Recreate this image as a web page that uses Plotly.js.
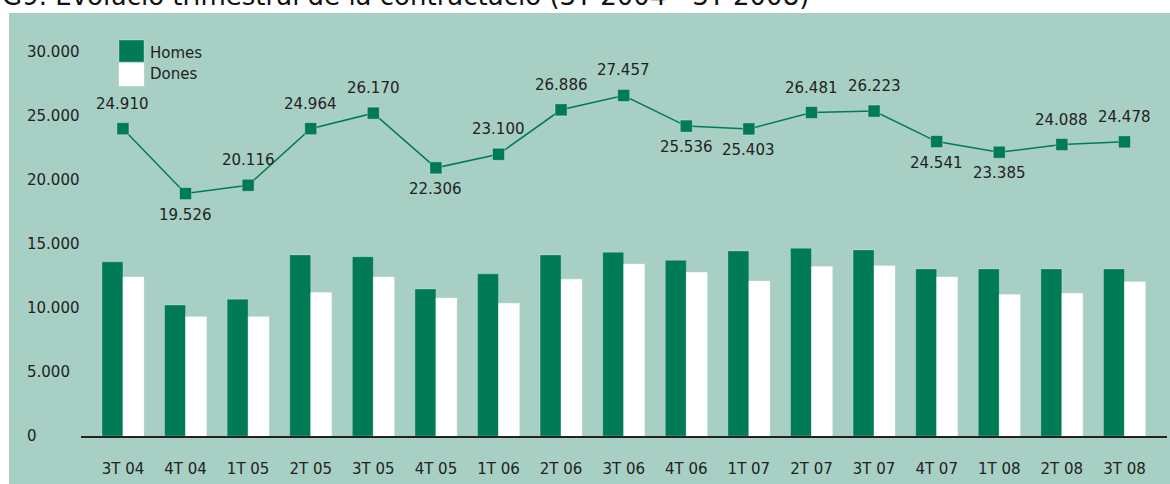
<!DOCTYPE html>
<html>
<head>
<meta charset="utf-8">
<script src="https://cdn.plot.ly/plotly-3.0.1.min.js"></script>
<style>
  body { margin: 0; background: #fff; }
  #graph { width: 1170px; height: 484px; }
</style>
</head>
<body>
<div id="graph"></div>
<script>
// quarters on the x axis
var quarters = ["3T 04", "4T 04", "1T 05", "2T 05", "3T 05", "4T 05", "1T 06", "2T 06", "3T 06",
                "4T 06", "1T 07", "2T 07", "3T 07", "4T 07", "1T 08", "2T 08", "3T 08"];

// bars
var homes = [13600, 10230, 10680, 14140, 14000, 11480, 12660, 14140, 14350,
             13720, 14450, 14660, 14530, 13050, 13050, 13050, 13050];
var dones = [12420, 9320, 9320, 11200, 12420, 10780, 10360, 12240, 13440,
             12790, 12110, 13230, 13300, 12420, 11040, 11150, 12050];

// total line: where the points sit, and the labels printed next to them
var totalLine = [24000, 18930, 19580, 24000, 25210, 20940, 22000, 25470, 26590,
                 24200, 23980, 25260, 25370, 22990, 22160, 22760, 22970];
var totalLabels = ["24.910", "19.526", "20.116", "24.964", "26.170", "22.306", "23.100", "26.886", "27.457",
                   "25.536", "25.403", "26.481", "26.223", "24.541", "23.385", "24.088", "24.478"];
var labelAbove = [true, false, true, true, true, false, true, true, true,
                  false, false, true, true, false, false, true, true];

// y axis ticks
var yTicks = [0, 5000, 10000, 15000, 20000, 25000, 30000];
var yTickText = ["0", "5.000", "10.000", "15.000", "20.000", "25.000", "30.000"];

var green = "#007b55";
var bg = "#a7cfc4";
var font = "DejaVu Sans, sans-serif";

function drawGraph() {
    var traceHomes = {
        x: quarters, y: homes, type: "bar", name: "Homes",
        marker: {color: green, line: {color: "rgba(255,255,255,0.25)", width: 1}},
        hoverinfo: "skip"
    };
    var traceDones = {
        x: quarters, y: dones, type: "bar", name: "Dones",
        marker: {color: "#ffffff", line: {color: "rgba(255,255,255,0.25)", width: 1}},
        hoverinfo: "skip"
    };
    var traceTotal = {
        x: quarters, y: totalLine, type: "scatter", mode: "lines+markers", name: "Total",
        line: {color: green, width: 1.5},
        marker: {symbol: "square", size: 12, color: green, line: {color: "rgba(255,255,255,0.3)", width: 1}},
        hoverinfo: "skip"
    };

    var annotations = [];
    // value labels
    for (var i = 0; i < quarters.length; i++) {
        annotations.push({
            x: quarters[i], y: totalLine[i], xref: "x", yref: "y",
            text: totalLabels[i], showarrow: false,
            yshift: labelAbove[i] ? 25 : -21,
            font: {family: font, size: 15, color: "#222"}
        });
    }
    // y tick labels, left aligned like the original
    for (var j = 0; j < yTicks.length; j++) {
        annotations.push({
            x: -0.052, y: yTicks[j], xref: "paper", yref: "y",
            text: yTickText[j], showarrow: false, xanchor: "left", yanchor: "middle",
            font: {family: font, size: 15, color: "#222"}
        });
    }
    // title (top cut off in the original)
    annotations.push({
        x: -0.0746, y: 1.066, xref: "paper", yref: "paper", xanchor: "left", yanchor: "bottom",
        text: "G9. Evolució trimestral de la contractació (3T 2004 - 3T 2008)",
        showarrow: false, font: {family: font, size: 26, color: "#111"}
    });
    // legend text
    annotations.push({x: 0.062, y: 0.9647, xref: "paper", yref: "paper", xanchor: "left", yanchor: "middle",
        text: "Homes", showarrow: false, font: {family: font, size: 15, color: "#222"}});
    annotations.push({x: 0.062, y: 0.9118, xref: "paper", yref: "paper", xanchor: "left", yanchor: "middle",
        text: "Dones", showarrow: false, font: {family: font, size: 15, color: "#222"}});

    var layout = {
        width: 1170, height: 484,
        margin: {l: 81, r: 3, t: 39, b: 48},
        paper_bgcolor: "#ffffff",
        plot_bgcolor: "rgba(0,0,0,0)",
        showlegend: false,
        barmode: "group", bargap: 0.33, bargroupgap: 0,
        xaxis: {
            type: "category", range: [-0.67, 16.68],
            showgrid: false, zeroline: false,
            showline: true, linecolor: "#222", linewidth: 1.5,
            ticks: "", ticklabelstandoff: 18,
            tickfont: {family: font, size: 15, color: "#222"}
        },
        yaxis: {
            range: [0, 31000], showgrid: false, zeroline: false,
            showticklabels: false, ticks: "", showline: false
        },
        shapes: [
            {type: "rect", xref: "paper", yref: "paper", x0: -0.0663, x1: 1.01, y0: -0.13, y1: 1.0655,
             fillcolor: bg, line: {width: 0}, layer: "below"},
            {type: "rect", xref: "paper", yref: "paper", x0: 0.035, x1: 0.058, y0: 0.942, y1: 0.9975,
             fillcolor: green, line: {color: "rgba(255,255,255,0.3)", width: 1}},
            {type: "rect", xref: "paper", yref: "paper", x0: 0.035, x1: 0.058, y0: 0.8816, y1: 0.9395,
             fillcolor: "#ffffff", line: {color: "rgba(255,255,255,0.3)", width: 1}}
        ],
        annotations: annotations
    };

    Plotly.newPlot("graph", [traceHomes, traceDones, traceTotal], layout, {displayModeBar: false, staticPlot: true});
}

drawGraph();
</script>
</body>
</html>
